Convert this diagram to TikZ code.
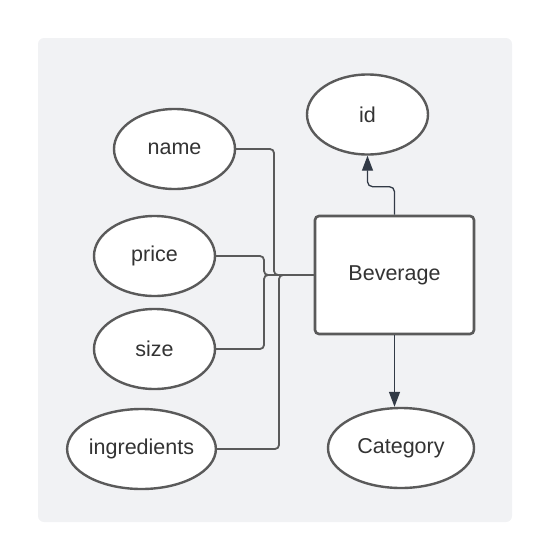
\documentclass[tikz,border=0pt]{standalone}
\usepackage{fontspec}
\setmainfont{Liberation Sans}
\usetikzlibrary{shapes.geometric,arrows.meta}
\definecolor{bgc}{HTML}{F1F2F4}
\definecolor{edge}{HTML}{5A5A5A}
\definecolor{txt}{HTML}{333333}
\definecolor{arrc}{HTML}{323A46}
\tikzset{
  attr/.style={ellipse, draw=edge, line width=2.4pt, fill=white, inner sep=0pt,
    minimum height=80pt, text=txt, font=\fontsize{21.5}{25}\selectfont},
  entbox/.style={rectangle, rounded corners=4pt, draw=edge, line width=2.6pt, fill=white,
    minimum width=159pt, minimum height=118pt, text=txt, font=\fontsize{21.5}{25}\selectfont},
  conn/.style={draw=edge, line width=1.8pt, rounded corners=4pt},
  arr/.style={draw=arrc, line width=1.3pt, rounded corners=5pt,
    -{Triangle[length=15pt,width=11pt]}}
}
\begin{document}
\begin{tikzpicture}[x=1pt,y=-1pt]
\useasboundingbox (0,0) rectangle (551,560);
\fill[bgc, rounded corners=6pt] (38,38) rectangle (512,522);

\node[attr, minimum width=121pt] (id) at (367.5,114.5) {id};
\node[attr, minimum width=121pt] (name) at (174.5,149) {name};
\node[attr, minimum width=121pt] (price) at (154.5,256) {price};
\node[attr, minimum width=121pt] (size) at (154.5,349) {size};
\node[attr, minimum width=147pt] (ingr) at (141.5,449) {ingredients};
\node[attr, minimum width=146pt] (cat) at (401,448) {Category};
\node[entbox] (bev) at (394.5,275) {Beverage};

\coordinate (jn) at (274,275);
\coordinate (jp) at (264,275);
\coordinate (js) at (264,275);
\coordinate (ji) at (279,275);

\draw[conn] (name.east) -| (jn) -- (bev.west);
\draw[conn] (price.east) -| (jp) -- (bev.west);
\draw[conn] (size.east) -| (js) -- (bev.west);
\draw[conn] (ingr.east) -| (ji) -- (bev.west);

\draw[arr] (bev.north) -- ++(0,-28) -| (id.south);
\draw[arr] (bev.south) -- (bev.south |- cat.north);
\end{tikzpicture}
\end{document}
